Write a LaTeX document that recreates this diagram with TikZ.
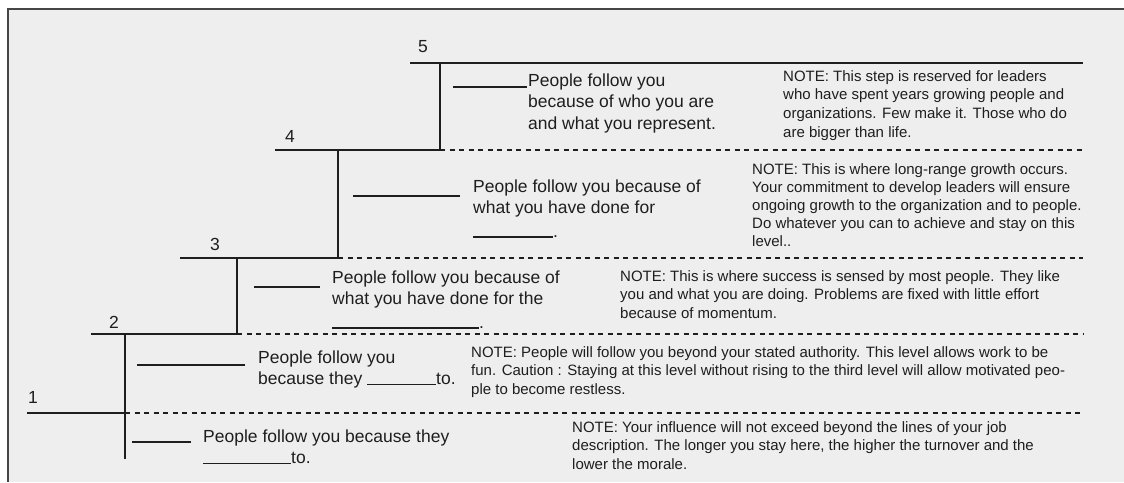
\documentclass[tikz,border=0pt]{standalone}
\usepackage{fontspec}
\setmainfont{Liberation Sans}
\definecolor{bg}{RGB}{238,238,238}
\definecolor{ink}{RGB}{30,30,30}
\definecolor{framec}{RGB}{70,70,70}
\begin{document}
\begin{tikzpicture}[x=1pt,y=-1pt,
  stepline/.style={line width=1.5pt, draw=ink},
  dashline/.style={line width=1.2pt, draw=ink, dash pattern=on 5pt off 4.5pt},
  blankline/.style={line width=1.2pt, draw=ink},
  mtext/.style={font=\fontsize{17.5}{21.5}\selectfont, text=ink, align=left, inner sep=0pt, anchor=north west},
  note/.style={font=\fontsize{15}{18.8}\selectfont, text=ink, align=left, inner sep=0pt, anchor=north west},
  num/.style={font=\fontsize{17.5}{21}\selectfont, text=ink, inner sep=0pt}]
\useasboundingbox (0,0) rectangle (1124,482);
\fill[white] (0,0) rectangle (1124,482);
\fill[bg] (8,9) rectangle (1124,482);
\draw[framec, line width=2pt] (8,482) -- (8,9) -- (1124,9);

% step geometry
\coordinate (s5l) at (410,63); \coordinate (s5r) at (1083,63); \coordinate (v5) at (440,63);
\coordinate (s4l) at (275,150); \coordinate (c4) at (440,150); \coordinate (s4r) at (1083,150); \coordinate (v4) at (338,150);
\coordinate (s3l) at (180,258); \coordinate (c3) at (338,258); \coordinate (s3r) at (1083,258); \coordinate (v3) at (237,258);
\coordinate (s2l) at (91,334); \coordinate (c2) at (237,334); \coordinate (s2r) at (1083,334); \coordinate (v2) at (125,334);
\coordinate (s1l) at (27,413); \coordinate (c1) at (125,413); \coordinate (s1r) at (1083,413); \coordinate (v1) at (125,459);

\draw[stepline] (s5l) -- (s5r);
\draw[stepline] (v5) -- (c4);
\draw[stepline] (s4l) -- (c4);
\draw[dashline] (c4) -- (s4r);
\draw[stepline] (v4) -- (c3);
\draw[stepline] (s3l) -- (c3);
\draw[dashline] (c3) -- (s3r);
\draw[stepline] (v3) -- (c2);
\draw[stepline] (s2l) -- (c2);
\draw[dashline] (c2) -- (s2r);
\draw[stepline] (v2) -- (v1);
\draw[stepline] (s1l) -- (c1);
\draw[dashline] (c1) -- (s1r);

% step numbers
\node[num] (n5) at (423,47) {5};
\node[num] (n4) at (290,136) {4};
\node[num] (n3) at (215,244) {3};
\node[num] (n2) at (114,322) {2};
\node[num] (n1) at (33,397) {1};

% blanks
\draw[blankline] (453,87) -- (527,87);
\draw[blankline] (353,196) -- (460,196);
\draw[blankline] (254,287) -- (320,287);
\draw[blankline] (137,365) -- (245,365);
\draw[blankline] (132,442) -- (191,442);

% main texts
\node[mtext] (t5) at (528,73.2) {People follow you\\because of who you are\\and what you represent.};
\node[mtext] (t4) at (473,179.2) {People follow you because of\\what you have done for\\[2pt]\rule[-0.6pt]{80pt}{1.2pt}.};
\node[mtext] (t3) at (332,270.2) {People follow you because of\\what you have done for the\\[2pt]\rule[-0.6pt]{147pt}{1.2pt}.};
\node[mtext] (t2) at (258,350.2) {People follow you\\because they \rule[-0.6pt]{69pt}{1.2pt}to.};
\node[mtext] (t1) at (203,429.2) {People follow you because they\\\rule[-0.6pt]{88pt}{1.2pt}to.};

% notes
\node[note] (m5) at (783,70) {NOTE: This step is reserved for leaders\\who have spent years growing people and\\organizations. Few make it. Those who do\\are bigger than life.};
\node[note, font=\fontsize{15}{18}\selectfont] (m4) at (752,163) {NOTE: This is where long-range growth occurs.\\Your commitment to develop leaders will ensure\\ongoing growth to the organization and to people.\\Do whatever you can to achieve and stay on this\\level..};
\node[note] (m3) at (620,270) {NOTE: This is where success is sensed by most people. They like\\you and what you are doing. Problems are fixed with little effort\\because of momentum.};
\node[note] (m2) at (471,346) {NOTE: People will follow you beyond your stated authority. This level allows work to be\\fun. Caution : Staying at this level without rising to the third level will allow motivated peo-\\ple to become restless.};
\node[note] (m1) at (572,421) {NOTE: Your influence will not exceed beyond the lines of your job\\description. The longer you stay here, the higher the turnover and the\\lower the morale.};
\end{tikzpicture}
\end{document}
